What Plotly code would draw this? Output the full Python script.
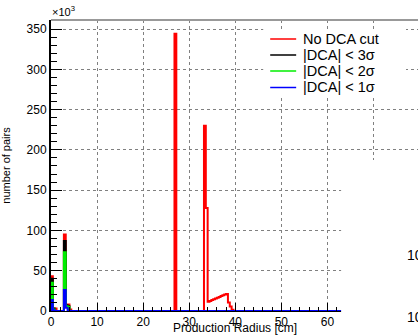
import numpy as np
import plotly.graph_objects as go

# ---- data (histogram with 0.4 cm bins from 0 to 80 cm) ----
bin_width = 0.4
x_max = 80.0

# non-zero bins: low edge of bin -> number of pairs (x10^3)
red_lo = [0.0, 0.4, 0.8, 2.8, 3.2, 3.6, 4.0, 26.8, 33.2, 33.6,
          34.0, 34.4, 34.8, 35.2, 35.6, 36.0, 36.4, 36.8, 37.2, 37.6, 38.0,
          38.4, 38.8, 39.2]
red_val = [43, 3, 3, 95, 8, 8, 2, 344, 230, 128,
           11.5, 12.5, 13.5, 14.5, 15.5, 16.5, 17.5, 18.5, 19.5, 20.5, 21,
           10.5, 5.5, 1.5]

black_lo = [0.0, 0.4, 2.8, 3.2, 3.6]
black_val = [40, 3, 87, 7, 6]

green_lo = [0.0, 0.4, 2.8, 3.2, 3.6]
green_val = [35, 2, 73, 6, 5]

blue_lo = [0.0, 0.4, 2.8, 3.2, 3.6]
blue_val = [13.5, 1, 26, 4, 1]

series_names = ["No DCA cut", "|DCA| < 3σ", "|DCA| < 2σ", "|DCA| < 1σ"]
series_colors = ["#ff0000", "#000000", "#00ee00", "#0000ff"]

x_ticks = [0, 10, 20, 30, 40, 50, 60, 70]
y_ticks = [0, 50, 100, 150, 200, 250, 300, 350]

# ---- build step outlines ----
n_bins = int(round(x_max / bin_width))
edges = np.round(np.arange(n_bins + 1) * bin_width, 4)


def full_hist(lo, val):
    h = np.zeros(n_bins)
    for l, v in zip(lo, val):
        h[int(round(l / bin_width))] = v
    return h


def outline(h):
    xs = np.concatenate([[edges[0]], edges[:-1], [edges[-1]]])
    ys = np.concatenate([[0.0], h, [h[-1]]])
    return xs, ys


fig = go.Figure()
for (lo, val), name, col in zip(
    [(red_lo, red_val), (black_lo, black_val), (green_lo, green_val), (blue_lo, blue_val)],
    series_names, series_colors,
):
    xs, ys = outline(full_hist(lo, val))
    fig.add_trace(go.Scatter(x=xs, y=ys, mode="lines", name=name, showlegend=False,
                             line=dict(color=col, width=2, shape="hv")))

# ---- layout (pixel geometry of the reference) ----
W, H = 418, 336
L, T, B = 50.5, 20, 25
plot_w = W - L
plot_h = H - T - B


def px2paper_x(px):
    return (px - L) / plot_w


def px2paper_y(py):
    return (H - B - py) / plot_h


font = "Liberation Sans, Arial, Helvetica, sans-serif"

shapes = [
    # top frame line
    dict(type="line", xref="paper", yref="paper", x0=0, x1=1.02, y0=1, y1=1,
         line=dict(color="#999999", width=2), layer="above"),
    # neighbouring pad covering the lower-right part of the frame
    dict(type="rect", xref="paper", yref="paper",
         x0=px2paper_x(341), x1=1.05, y0=-0.3, y1=px2paper_y(160),
         fillcolor="white", line=dict(width=0), layer="above"),
    # legend box (ROOT TLegend, no border)
    dict(type="rect", xref="paper", yref="paper",
         x0=px2paper_x(263), x1=px2paper_x(406), y0=px2paper_y(98), y1=px2paper_y(29),
         fillcolor="white", line=dict(width=0), layer="above"),
]

annotations = [
    dict(text="×10<sup>3</sup>", xref="paper", yref="paper", x=0, y=1,
         xanchor="left", yanchor="bottom", showarrow=False,
         font=dict(size=11), xshift=-1, yshift=0),
    dict(text="Production Radius [cm]", xref="paper", yref="paper",
         x=px2paper_x(235), y=px2paper_y(336), xanchor="center", yanchor="bottom",
         showarrow=False, font=dict(size=12), borderpad=0),
    dict(text="10", xref="paper", yref="paper", x=px2paper_x(405), y=px2paper_y(255),
         xanchor="left", yanchor="middle", showarrow=False, font=dict(size=14)),
    dict(text="10", xref="paper", yref="paper", x=px2paper_x(405), y=px2paper_y(317),
         xanchor="left", yanchor="middle", showarrow=False, font=dict(size=14)),
]

# legend entries
legend_rows_px = [39, 55, 71, 87.5]
for name, col, ypx in zip(series_names, series_colors, legend_rows_px):
    shapes.append(dict(type="line", xref="paper", yref="paper",
                       x0=px2paper_x(270), x1=px2paper_x(296),
                       y0=px2paper_y(ypx), y1=px2paper_y(ypx),
                       line=dict(color=col, width=1.5), layer="above"))
    annotations.append(dict(text=name, xref="paper", yref="paper",
                            x=px2paper_x(301), y=px2paper_y(ypx),
                            xanchor="left", yanchor="middle", showarrow=False,
                            font=dict(size=14.5, color="black")))

fig.update_layout(
    width=W, height=H,
    margin=dict(l=L, r=0, t=T, b=B, autoexpand=False),
    paper_bgcolor="white", plot_bgcolor="white",
    font=dict(family=font, size=12, color="black"),
    showlegend=False,
    xaxis=dict(
        range=[0, x_max * (plot_w / (419.6 - L))],
        tickvals=x_ticks, ticks="inside", ticklen=8, tickcolor="black",
        showline=True, linecolor="black", linewidth=1, mirror=False,
        showgrid=True, gridcolor="#808080", gridwidth=1, griddash="dot",
        zeroline=False, tickfont=dict(size=12),
        minor=dict(dtick=2, ticks="inside", ticklen=4, tickcolor="black", showgrid=False),
        automargin=False,
    ),
    yaxis=dict(
        range=[0, 361.2],
        tickvals=y_ticks, ticks="inside", ticklen=11, tickcolor="black",
        showline=True, linecolor="black", linewidth=2,
        showgrid=True, gridcolor="#808080", gridwidth=1, griddash="dot",
        zeroline=False, tickfont=dict(size=12),
        minor=dict(dtick=10, ticks="inside", ticklen=6, tickcolor="black", showgrid=False),
        title=dict(text="number of pairs", font=dict(size=11)),
        automargin=False,
    ),
    shapes=shapes,
    annotations=annotations,
)

fig.write_html("out.html")
